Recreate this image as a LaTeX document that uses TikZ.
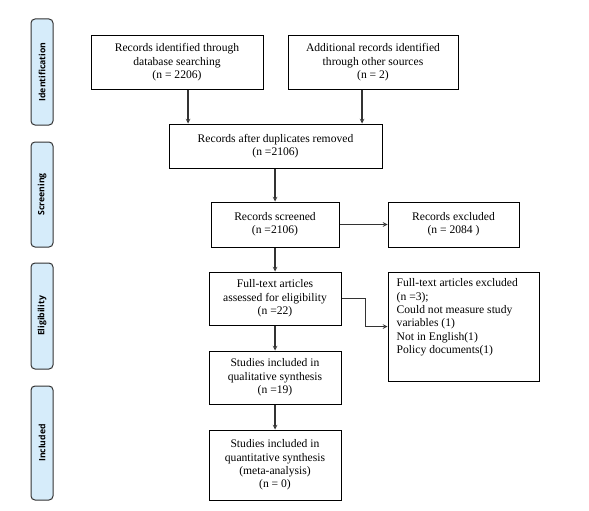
\documentclass[tikz,border=0pt]{standalone}
\usepackage{fontspec}
\setmainfont{Liberation Serif}
\newfontfamily\phasefont{Open Sans}
\usetikzlibrary{arrows,calc,positioning}
\definecolor{phaseblue}{HTML}{D6ECFA}
\definecolor{linegray}{HTML}{333333}
\tikzset{
  recbox/.style={draw=black,line width=1pt,align=center,inner sep=2pt,font=\fontsize{11.6}{13.4}\selectfont},
  phasebox/.style={draw=linegray,fill=phaseblue,line width=1pt,rounded corners=4pt,minimum width=22pt,inner sep=0pt},
  phasetext/.style={rotate=90,font=\phasefont\bfseries\fontsize{8.7}{10}\selectfont},
  flow/.style={->,draw=linegray,line width=1.1pt}
}
\begin{document}
\begin{tikzpicture}[x=1pt,y=-1pt,>=stealth]
\useasboundingbox (0,0) rectangle (589,511);
% phase labels on the left
\node[phasebox,minimum height=106pt] (ident) at (42,72) {};
\node[phasetext] at (ident) {Identification};
\node[phasebox,minimum height=105pt] (screen) at (42,194.5) {};
\node[phasetext] at (screen) {Screening};
\node[phasebox,minimum height=106pt] (elig) at (42,316) {};
\node[phasetext] at (elig) {Eligibility};
\node[phasebox,minimum height=114pt] (incl) at (42,443) {};
\node[phasetext] at (incl) {Included};
% records
\node[recbox,minimum width=172pt,minimum height=53pt] (dbrec) at (177,62.5) {Records identified through\\database searching\\(n = 2206)};
\node[recbox,minimum width=170pt,minimum height=53pt] (otherrec) at (373,62.5) {Additional records identified\\through other sources\\(n = 2)};
\node[recbox,minimum width=213pt,minimum height=44pt] (dedup) at (275.5,146) {Records after duplicates removed\\(n =2106)};
\node[recbox,minimum width=128pt,minimum height=45pt] (screened) at (275,224.5) {Records screened\\(n =2106)};
\node[recbox,minimum width=131pt,minimum height=45pt] (excl) at (453.5,224.5) {Records excluded\\(n = 2084 )};
\node[recbox,minimum width=132pt,minimum height=53pt] (fulltext) at (275,298.5) {Full-text articles\\assessed for eligibility\\(n =22)};
\node[recbox,minimum width=151pt,minimum height=109pt] (ftexcl) at (463.5,326.5) {};
\node[anchor=north west,align=left,inner sep=0pt,font=\fontsize{11.6}{13.4}\selectfont] (ftexcltext) at ([xshift=9pt,yshift=-7pt]ftexcl.north west) {Full-text articles excluded\\(n =3);\\Could not measure study\\variables (1)\\Not in English(1)\\Policy documents(1)};
\node[recbox,minimum width=132pt,minimum height=53pt] (qual) at (275,377.5) {Studies included in\\qualitative synthesis\\(n =19)};
\node[recbox,minimum width=132pt,minimum height=70pt] (quant) at (275,465) {Studies included in\\quantitative synthesis\\(meta-analysis)\\(n = 0)};
% arrows
\draw[flow] ([xshift=11pt]dbrec.south) -- ([xshift=11pt]dbrec.south |- dedup.north);
\draw[flow] ([xshift=-11pt]otherrec.south) -- ([xshift=-11pt]otherrec.south |- dedup.north);
\draw[flow] (dedup.south -| screened.north) -- (screened.north);
\draw[flow] (screened.east) -- (excl.west);
\draw[flow] (screened.south) -- (fulltext.north);
\draw[flow] (fulltext.east) -- ++(24,0) |- (ftexcl.west);
\draw[flow] (fulltext.south) -- (qual.north);
\draw[flow] (qual.south) -- (quant.north);
\end{tikzpicture}
\end{document}
